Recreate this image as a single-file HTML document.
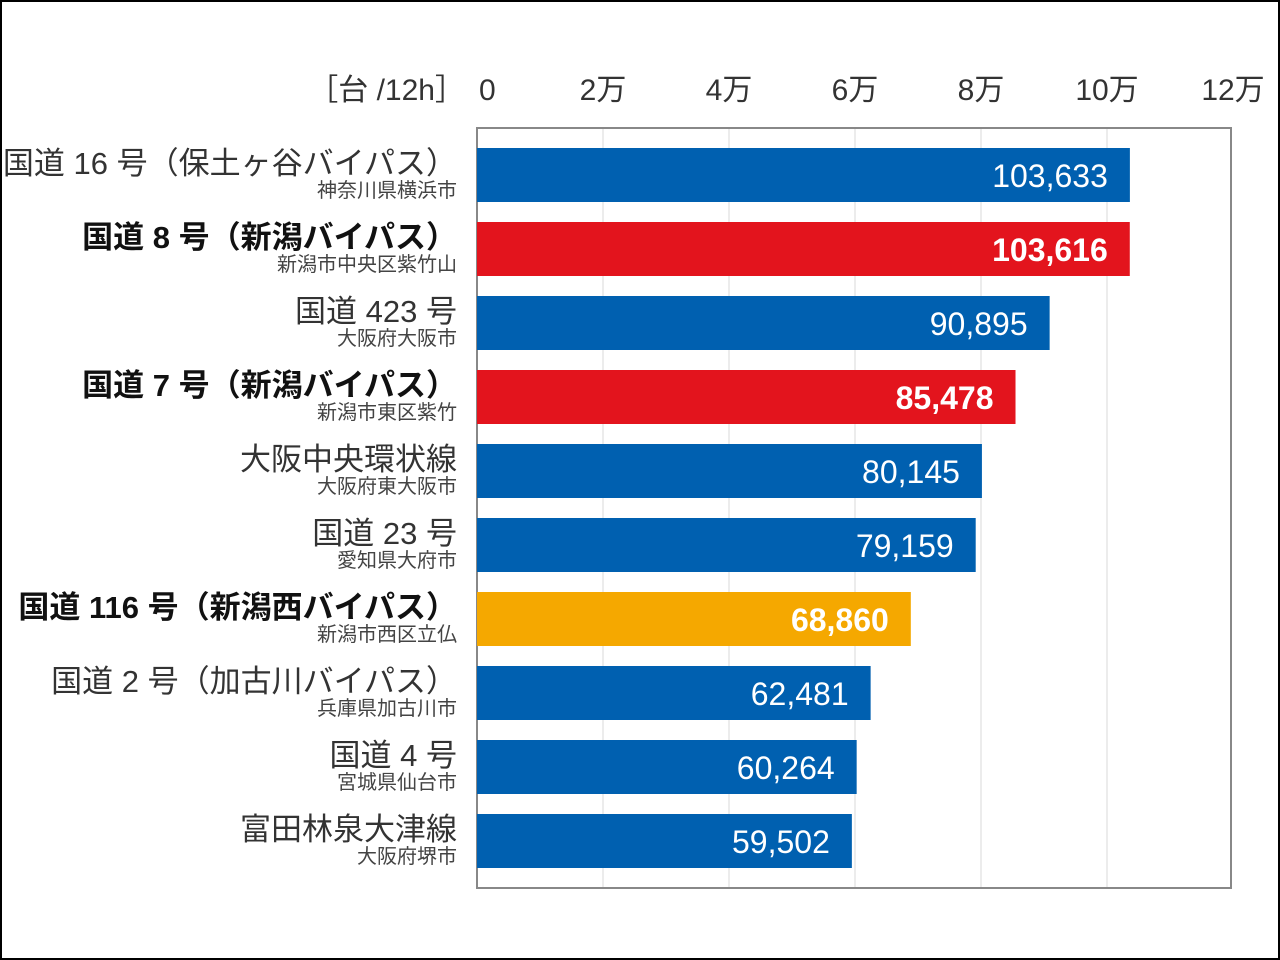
<!DOCTYPE html>
<html><head><meta charset="utf-8"><style>
html,body{margin:0;padding:0;background:#fff;}
svg{display:block;font-family:"Liberation Sans","Noto Sans CJK JP",sans-serif;}
</style></head><body>
<svg id="chart" width="1280" height="960" viewBox="0 0 1280 960">
<rect x="1" y="1" width="1278" height="958" fill="#fff" stroke="#000" stroke-width="2"/>
<g id="grid"></g>
<rect x="477" y="128" width="754" height="760" fill="none" stroke="#888" stroke-width="2"/>
<g id="bars"></g>
<g id="ticks"></g>
<text x="465" y="100" text-anchor="end" font-size="30" fill="#333">［台 /12h］</text>
</svg>
<script>
const categories=["国道 16 号（保土ヶ谷バイパス）","国道 8 号（新潟バイパス）","国道 423 号","国道 7 号（新潟バイパス）","大阪中央環状線","国道 23 号","国道 116 号（新潟西バイパス）","国道 2 号（加古川バイパス）","国道 4 号","富田林泉大津線"];
const locations=["神奈川県横浜市","新潟市中央区紫竹山","大阪府大阪市","新潟市東区紫竹","大阪府東大阪市","愛知県大府市","新潟市西区立仏","兵庫県加古川市","宮城県仙台市","大阪府堺市"];
const values=[103633,103616,90895,85478,80145,79159,68860,62481,60264,59502];
const highlight=["blue","red","blue","red","blue","blue","orange","blue","blue","blue"];
const tickValues=[0,20000,40000,60000,80000,100000,120000];
const tickLabels=["0","2万","4万","6万","8万","10万","12万"];
const NS="http://www.w3.org/2000/svg";
const x0=477,xMax=120000,pw=756;
const xs=v=>x0+v/xMax*pw;
const rowTop=130,rowH=74;
const colors={blue:"#0060b0",red:"#e3141d",orange:"#f5a800"};
function mk(t,a,p){const e=document.createElementNS(NS,t);for(const k in a)e.setAttribute(k,a[k]);p.appendChild(e);return e;}
const grid=document.getElementById('grid'),bars=document.getElementById('bars'),ticks=document.getElementById('ticks');
tickValues.forEach((v,i)=>{
  if(i>0&&i<tickValues.length-1){const l=mk('line',{x1:xs(v),x2:xs(v),y1:129,y2:887,stroke:"#e6e6e6","stroke-width":1.5},grid);
  
  }
  const t=mk('text',{x:i==0?xs(v)+2:xs(v),y:100,"text-anchor":i==0?"start":"middle","font-size":30,fill:"#333"},ticks);
  t.textContent=tickLabels[i];
  
  
});
values.forEach((v,i)=>{
  const y=rowTop+i*rowH+18;
  const bold=highlight[i]!=="blue";
  const r=mk('rect',{x:x0,y:y,width:xs(v)-x0,height:54,fill:colors[highlight[i]]},bars);
  
  
  const vt=mk('text',{x:xs(v)-22,y:y+39,"text-anchor":"end","font-size":32,fill:"#fff","font-weight":bold?"bold":"normal"},bars);
  vt.textContent=v.toLocaleString('en-US');
  
  
  const ct=mk('text',{x:457,y:y+26,"text-anchor":"end","font-size":31,fill:bold?"#111":"#333","font-weight":bold?"bold":"normal"},bars);
  ct.textContent=categories[i];
  
  
  const lt=mk('text',{x:457,y:y+49,"text-anchor":"end","font-size":20,fill:"#444"},bars);
  lt.textContent=locations[i];
  
  
});
</script>
</body></html>
